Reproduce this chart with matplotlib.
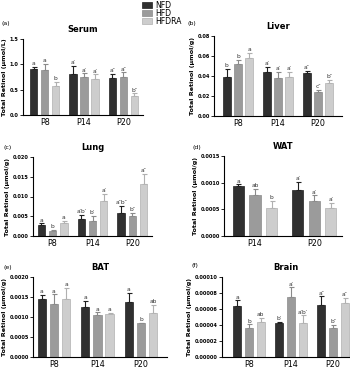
import numpy as np
import matplotlib.pyplot as plt

W, H = 350, 369

groups = ["NFD", "HFD", "HFDRA"]
colors = ["#303030", "#9b9b9b", "#cdcdcd"]
edges = ["#202020", "#8a8a8a", "#b0b0b0"]

ages3 = ["P8", "P14", "P20"]
ages2 = ["P14", "P20"]

# means per group (NFD, HFD, HFDRA) at each age, and SEM
serum_mean = [[0.91, 0.80, 0.74], [0.89, 0.75, 0.75], [0.58, 0.72, 0.37]]
serum_err = [[0.04, 0.17, 0.07], [0.12, 0.07, 0.09], [0.07, 0.08, 0.06]]
serum_lab = [["a", "a′", "a″"], ["a", "a′", "a″"], ["b", "a′", "b″"]]

liver_mean = [[0.039, 0.044, 0.043], [0.052, 0.038, 0.024], [0.058, 0.039, 0.033]]
liver_err = [[0.008, 0.005, 0.002], [0.004, 0.006, 0.002], [0.005, 0.005, 0.003]]
liver_lab = [["b", "a′", "a″"], ["b", "a′", "c″"], ["a", "a′", "b″"]]

lung_mean = [[0.0028, 0.0042, 0.0059], [0.0013, 0.0038, 0.0051], [0.0033, 0.0089, 0.0131]]
lung_err = [[0.0004, 0.0012, 0.0017], [0.0002, 0.0013, 0.0008], [0.0006, 0.0018, 0.0026]]
lung_lab = [["a", "a′b′", "a″b″"], ["b", "b′", "b″"], ["a", "a′", "a″"]]

wat_mean = [[0.00094, 0.00086], [0.00076, 0.00066], [0.00053, 0.00052]]
wat_err = [[0.00003, 0.00015], [0.00012, 0.00010], [0.00013, 0.00010]]
wat_lab = [["a", "a′"], ["ab", "a′"], ["b", "a′"]]

bat_mean = [[0.00145, 0.00124, 0.00137], [0.00132, 0.00104, 0.00084], [0.00146, 0.00107, 0.00110]]
bat_err = [[0.00010, 0.00017, 0.00023], [0.00025, 0.00008, 0.00002], [0.00027, 0.00004, 0.00020]]
bat_lab = [["a", "a", "a"], ["a", "a", "b"], ["a", "a", "ab"]]

brain_mean = [[0.000064, 0.000043, 0.000065], [0.000036, 0.000075, 0.000036], [0.000044, 0.000042, 0.000067]]
brain_err = [[0.000007, 0.000001, 0.000011], [0.000005, 0.000012, 0.000004], [0.000005, 0.000010, 0.000007]]
brain_lab = [["a", "b′", "a″"], ["b", "a′", "b″"], ["ab", "a′b′", "a″"]]


def rect(l, r, t, b):
    return [l / W, 1 - b / H, (r - l) / W, (b - t) / H]


fig = plt.figure(figsize=(W / 100, H / 100), dpi=100)
plt.rcParams["font.family"] = "DejaVu Sans"


def panel(box, xlim, ages, means, errs, labs, ymax, ystep, fmt, title, tag, unit, tagpos):
    ax = fig.add_axes(rect(*box))
    x = np.arange(len(ages))
    for i in range(3):
        xi = x + (i - 1) * 0.28
        m = np.array(means[i])
        e = np.array(errs[i])
        ax.bar(xi, m, 0.19, color=colors[i], edgecolor=edges[i], linewidth=0.5, zorder=2)
        ax.errorbar(xi, m, yerr=[np.zeros_like(e), e], fmt="none", ecolor=edges[i],
                    elinewidth=0.8, capsize=1.8, capthick=0.8, zorder=1)
        for xx, top, lab in zip(xi, m + e, labs[i]):
            ax.annotate(lab, (xx, top), xytext=(0, 0.5), textcoords="offset points",
                        ha="center", va="bottom", fontsize=4.3, color="#333333")
    ax.set_xlim(*xlim)
    ax.set_ylim(0, ymax)
    ticks = np.arange(0, ymax + ystep / 2, ystep)
    ax.set_yticks(ticks)
    ax.set_yticklabels([fmt % t for t in ticks], fontsize=3.6, fontweight="bold")
    ax.set_xticks(x)
    ax.set_xticklabels(ages, fontsize=5.8)
    ax.tick_params(axis="x", length=0, pad=2)
    ax.tick_params(axis="y", length=2, width=0.6, pad=1)
    for s in ["top", "right"]:
        ax.spines[s].set_visible(False)
    for s in ["left", "bottom"]:
        ax.spines[s].set_linewidth(0.8)
    ax.set_ylabel("Total Retinol (μmol/%s)" % unit, fontsize=4.6, fontweight="bold", labelpad=2)
    ax.set_title(title, fontsize=6, fontweight="bold", pad=5)
    fig.text(tagpos[0] / W, 1 - tagpos[1] / H, tag, fontsize=4.5, ha="left", va="center")
    return ax


panel((23, 143, 39, 115), (-0.55, 2.5), ages3, serum_mean, serum_err, serum_lab,
      1.5, 0.5, "%.1f", "Serum", "(a)", "L", (2, 24))
panel((214, 342, 36, 116), (-0.6, 2.6), ages3, liver_mean, liver_err, liver_lab,
      0.08, 0.02, "%.2f", "Liver", "(b)", "g", (187, 24))
panel((33, 152, 157, 236), (-0.49, 2.49), ages3, lung_mean, lung_err, lung_lab,
      0.020, 0.005, "%.3f", "Lung", "(c)", "g", (3, 147))
panel((224, 342, 156, 236), (-0.525, 1.47), ages2, wat_mean, wat_err, wat_lab,
      0.0015, 0.0005, "%.4f", "WAT", "(d)", "g", (193, 147))
panel((33, 167, 277, 357), (-0.48, 2.6), ages3, bat_mean, bat_err, bat_lab,
      0.0020, 0.0005, "%.4f", "BAT", "(e)", "g", (3, 267))
panel((222, 350, 277, 357), (-0.64, 2.4), ages3, brain_mean, brain_err, brain_lab,
      0.0001, 0.00002, "%.5f", "Brain", "(f)", "g", (192, 266))

# legend at top
for i, g in enumerate(groups):
    y = 1 - (5 + i * 8) / H
    fig.patches.append(plt.Rectangle((142 / W, y - 3 / H), 10 / W, 6 / H, transform=fig.transFigure,
                                     facecolor=colors[i], edgecolor=edges[i], linewidth=0.5))
    fig.text(155 / W, y, g, fontsize=5.6, va="center", ha="left")

fig.savefig("out.png", dpi=100)
